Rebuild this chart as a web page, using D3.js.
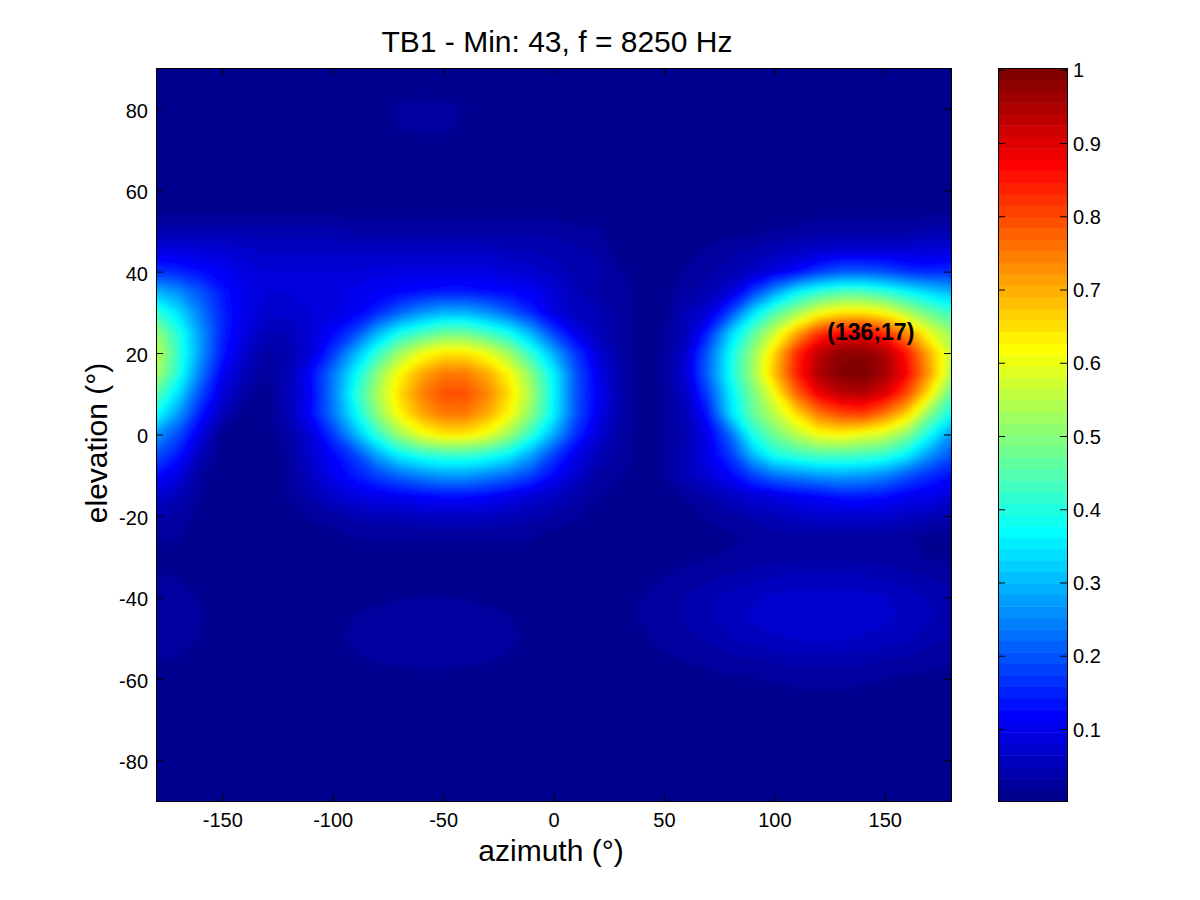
<!DOCTYPE html>
<html>
<head>
<meta charset="utf-8">
<script src="https://cdn.jsdelivr.net/npm/d3@7"></script>
<style>
  html, body { margin: 0; background: #fff; }
  text { font-family: "Liberation Sans", Arial, sans-serif; fill: #000; }
  .axis text { font-size: 20px; }
  .axis path, .axis line { stroke: #000; }
  .label { font-size: 30px; }
</style>
</head>
<body>
<script>
var titleText = "TB1 - Min: 43, f = 8250 Hz";
var xLabel = "azimuth (\u00B0)";
var yLabel = "elevation (\u00B0)";
var peakLabel = "(136;17)";
var peakAz = 136, peakEl = 17;

var azimuths = d3.range(-180, 181, 10);
var elevations = d3.range(90, -91, -5);
var xTicks = [-150, -100, -50, 0, 50, 100, 150];
var yTicks = [-80, -60, -40, -20, 0, 20, 40, 60, 80];
var cTicks = [0.1, 0.2, 0.3, 0.4, 0.5, 0.6, 0.7, 0.8, 0.9, 1];
var cMin = 0.0017, cMax = 1.0024;

// level in percent. One row per elevation (90 down to -90),
// columns are azimuth -180..-130 | -120..-40 | -30..50 | 60..140 | 150..180
var flat = [1,1,1,1,1,1, 1,1,1,1,1,1,1,1,1, 1,1,1,1,1,1,1,1,1, 1,1,1,1,1,1,1,1,1, 1,1,1,1];
var levels = [
  flat, // 90
  [1,1,1,1,1,1, 1,1,1,1,1,1,1.2,1.2,1, 1,1,1,1,1,1,1,1,1, 1,1,1,1,1,1,1,1,1, 1,1,1,1], // 85
  [1,1,1,1,1,1, 1,1,1,1,1.2,2,2.3,2.2,1.74, 1,1,1,1,1,1,1,1,1, 1,1,1,1,1,1,1,1,1, 1,1,1,1], // 80
  [1,1,1,1,1,1, 1,1,1,1,1,1.78,2.1,2,1.5, 1,1,1,1,1,1,1,1,1, 1,1,1,1,1,1,1,1,1, 1,1,1,1], // 75
  flat, // 70
  flat, // 65
  flat, // 60
  flat, // 55
  [4,4,4,4,4,4, 4,4,4,3,3,3,3,3,3, 3,3,3,3,2,2,1,1,1, 1,1,1,1,2,2,3,3,3, 3,3,4,4], // 50
  [9,9,8,8,7,6, 6,6,6,6,6,6,6,6,6, 6,5,5,4,4,3,1,1,1, 1,2,3,4,5,6,7,8,8, 8,8,8,9], // 45
  [16,15,13,11,9,8, 8,8,8,8,9,9,9,9,9, 9,8,7,6,4,4,2,1,1, 2,3,4,6,9,12,17,20,20, 19,16,15,16], // 40
  [30,26,20,14,10,8, 8,8,9,10,11,12,13,14,14, 13,12,11,8,5,3,3,1,1, 3,4,8,17,27,36,41,44,44, 41,37,33,30], // 35
  [42,34,24,15,10,7, 7,8,9,11,15,21,26,29,29, 26,21,15,9,5,5,3,1,1, 5,8,18,33,44,52,60,64,64, 61,54,47,42], // 30
  [52,40,27,15,9,5, 5,8,12,18,29,38,43,47,47, 43,38,29,18,10,5,3,1,2, 5,15,32,45,57,70,82,87,88, 83,73,60,52], // 25
  [56,42,27,14,7,3, 4,8,17,29,41,52,60,64,64, 60,52,41,29,17,8,3,1,2, 7,21,37,51,66,83,93,98,98, 95,85,70,56], // 20
  [54,40,24,11,5,2, 5,12,23,36,50,62,70,75,75, 70,62,50,36,20,10,4,1,2, 8,22,38,52,68,84,95,99,100, 96,87,72,54], // 15
  [46,34,19,8,3,1, 5,11,24,39,53,65,74,79,79, 74,65,53,37,20,11,4,1,2, 6,18,35,48,61,77,88,93,94, 90,80,64,46], // 10
  [38,27,14,5,1,1, 5,12,23,36,50,62,70,75,75, 70,62,50,36,20,10,4,1,2, 5,14,33,46,55,65,75,80,81, 75,66,50,38], // 5
  [27,19,9,1,1,1, 3,8,17,29,41,52,60,64,64, 60,52,41,29,16,8,3,1,2, 4,10,22,39,48,55,61,62,60, 57,50,38,27], // 0
  [20,14,5,1,1,1, 2,7,12,18,28,36,40,42,42, 40,36,28,18,10,5,3,1,2, 5,10,17,30,39,42,44,44,43, 41,36,27,20], // -5
  [13,9,2,1,1,1, 2,6,10,14,18,22,25,27,27, 25,22,18,12,7,3,2,1,2, 5,8,12,18,23,25,27,28,27, 25,20,16,13], // -10
  [8,5,2,1,1,1, 2,4,7,9,10,11,12,13,13, 12,10,8,6,4,2,1,1,1, 2,4,6,8,9,11,12,14,14, 13,11,10,8], // -15
  [4,3,1,1,1,1, 1,2,3,4,5,5,6,6,6, 6,5,4,3,2,1,1,1,1, 1,2,3,4,5,6,7,7,7, 7,6,5,4], // -20
  [2,2,1,1,1,1, 1,1,1,2,2,2,2,2,2, 2,2,2,1,1,1,1,1,1, 1,1,1.5,2,3,3,3,3,3, 3,2,1.5,1.5], // -25
  [1,1,1,1,1,1, 1,1,1,1,1,1,1,1,1, 1,1,1,1,1,1,1,1,1, 1.3,1.6,2,2.3,2.6,2.8,2.9,2.9,2.7, 2.5,2.1,1.6,1.4], // -30
  [1.92,1.73,1.14,1,1,1, 1,1,1,1,1,1,1,1,1, 1,1,1,1,1,1,1,1.3,1.8, 2.3,3,3.5,4.3,4.9,5.3,5.4,5.3,5.1, 4.5,3.8,3.2,2.6], // -35
  [2.5,2.3,1.73,1,1,1, 1,1,1,1,1.36,1.66,1.8,1.82,1.66, 1.36,1.1,1,1,1,1,1.3,1.8,2.5, 3.4,4.5,5.5,6.1,6.9,7,7.2,7.2,7, 6.6,5.8,4.8,3.7], // -40
  [2.7,2.5,1.9,1,1,1, 1,1,1,1.86,2.3,2.6,2.75,2.75,2.6, 2.3,1.86,1,1,1,1,1.4,1.9,2.7, 3.5,4.7,5.7,6.7,7.3,7.5,8,7.6,7.2, 6.8,6.1,5.1,4], // -45
  [2.5,2.3,1.73,1,1,1, 1,1,1.5,2.1,2.54,2.84,3,3,2.84, 2.54,2.1,1.5,1,1,1,1.1,1.6,2.3, 3,3.7,4.6,5.5,6.2,6.6,6.8,6.7,6.3, 5.8,5.1,4,3.2], // -50
  [1.92,1.73,1.14,1,1,1, 1,1,1,1.57,2,2.3,2.46,2.46,2.3, 2,1.57,1,1,1,1,1,1,1.5, 1.9,2.4,3,3.3,3.8,4.2,4.3,4.2,4, 3.5,3.1,2.6,2.1], // -55
  [1,1,1,1,1,1, 1,1,1,1,1,1,1.2,1.2,1, 1,1,1,1,1,1,1,1,1, 1,1.2,1.5,1.7,2,2.2,2.3,2.3,2.1, 1.8,1.5,1.3,1], // -60
  [1,1,1,1,1,1, 1,1,1,1,1,1,1,1,1, 1,1,1,1,1,1,1,1,1, 1,1,1,1,1.1,1.2,1.2,1.2,1.1, 1,1,1,1], // -65
  flat, // -70
  flat, // -75
  flat, // -80
  flat, // -85
  flat  // -90
];

var plot = {left: 156, right: 951, top: 68, bottom: 801};
var bar = {left: 998, right: 1067};

// matlab jet, 64 steps
function jet(i) {
  var t = (i + 1) / 64;
  function ch(c) { return Math.round(255 * Math.max(0, Math.min(1, 1.5 - Math.abs(4 * t - c)))); }
  return d3.rgb(ch(3), ch(2), ch(1)).formatHex();
}
var colors = d3.range(64).map(jet);

var x = d3.scaleLinear().domain([-180, 180]).range([plot.left, plot.right]);
var y = d3.scaleLinear().domain([-90, 90]).range([plot.bottom, plot.top]);
var c = d3.scaleLinear().domain([cMin, cMax]).range([plot.bottom, plot.top]);

// contour coordinates sit half a cell off the grid values
var gridX = d3.scaleLinear().domain([0.5, azimuths.length - 0.5]).range([x(azimuths[0]), x(azimuths[azimuths.length - 1])]);
var gridY = d3.scaleLinear().domain([0.5, elevations.length - 0.5]).range([y(elevations[0]), y(elevations[elevations.length - 1])]);

var path = d3.geoPath(d3.geoTransform({
  point: function(px, py) { this.stream.point(gridX(px), gridY(py)); }
}));

var thresholds = d3.range(1, 64).map(function(i) { return (0.002 + i * 0.998 / 64) * 100; });
var contours = d3.contours()
  .size([azimuths.length, elevations.length])
  .thresholds(thresholds)
  .smooth(true)(d3.merge(levels));

var svg = d3.select("body").append("svg")
  .attr("width", 1200)
  .attr("height", 900)
  .style("display", "block");

var defs = svg.append("defs");
defs.append("clipPath").attr("id", "plot-clip")
  .append("rect")
  .attr("x", plot.left).attr("y", plot.top)
  .attr("width", plot.right - plot.left).attr("height", plot.bottom - plot.top);

// softens the facets of the 10 degree grid
defs.append("filter").attr("id", "soft")
  .append("feGaussianBlur").attr("stdDeviation", 2.5);

var field = svg.append("g").attr("clip-path", "url(#plot-clip)")
  .append("g").attr("filter", "url(#soft)");

field.append("rect")
  .attr("x", plot.left - 20).attr("y", plot.top - 20)
  .attr("width", plot.right - plot.left + 40).attr("height", plot.bottom - plot.top + 40)
  .attr("fill", colors[0]);

field.selectAll("path")
  .data(contours)
  .enter()
  .append("path")
  .attr("d", path)
  .attr("fill", function(d, i) { return colors[i + 1]; });

// axes with inward ticks
svg.append("g").attr("class", "axis")
  .attr("transform", "translate(0," + plot.bottom + ")")
  .call(d3.axisBottom(x).tickValues(xTicks).tickSizeInner(-7).tickSizeOuter(0).tickPadding(12).tickFormat(String));

svg.append("g").attr("class", "axis")
  .attr("transform", "translate(0," + plot.top + ")")
  .call(d3.axisTop(x).tickValues(xTicks).tickSizeInner(-7).tickSizeOuter(0).tickFormat(""));

svg.append("g").attr("class", "axis")
  .attr("transform", "translate(" + plot.left + ",0)")
  .call(d3.axisLeft(y).tickValues(yTicks).tickSizeInner(-7).tickSizeOuter(0).tickPadding(8).tickFormat(String))
  .selectAll("text").attr("dy", "0.42em");

svg.append("g").attr("class", "axis")
  .attr("transform", "translate(" + plot.right + ",0)")
  .call(d3.axisRight(y).tickValues(yTicks).tickSizeInner(-7).tickSizeOuter(0).tickFormat(""));

svg.append("text")
  .attr("x", x(peakAz) + 17)
  .attr("y", y(peakEl) - 25)
  .attr("text-anchor", "middle")
  .style("font-size", "23px")
  .style("font-weight", "bold")
  .text(peakLabel);

svg.append("text").attr("class", "label")
  .attr("x", 557).attr("y", 52)
  .attr("text-anchor", "middle")
  .text(titleText);

svg.append("text").attr("class", "label")
  .attr("x", 551).attr("y", 861)
  .attr("text-anchor", "middle")
  .text(xLabel);

svg.append("text").attr("class", "label")
  .attr("transform", "translate(107,443)rotate(-90)")
  .attr("text-anchor", "middle")
  .text(yLabel);

// colorbar, one band per jet step
var bandH = (plot.bottom - plot.top) / 64;
svg.append("g").selectAll("rect")
  .data(colors)
  .enter()
  .append("rect")
  .attr("x", bar.left)
  .attr("y", function(d, i) { return plot.bottom - (i + 1) * bandH; })
  .attr("width", bar.right - bar.left)
  .attr("height", bandH + 0.5)
  .attr("fill", function(d) { return d; });

svg.append("g").attr("class", "axis")
  .attr("transform", "translate(" + bar.right + ",0)")
  .call(d3.axisRight(c).tickValues(cTicks).tickSizeInner(-7).tickSizeOuter(0).tickPadding(6).tickFormat(String))
  .selectAll("text").attr("dy", "0.36em");

svg.append("g").attr("class", "axis")
  .attr("transform", "translate(" + bar.left + ",0)")
  .call(d3.axisLeft(c).tickValues(cTicks).tickSizeInner(-7).tickSizeOuter(0).tickFormat(""));

svg.append("rect")
  .attr("x", plot.left + 0.5).attr("y", plot.top + 0.5)
  .attr("width", plot.right - plot.left).attr("height", plot.bottom - plot.top)
  .attr("fill", "none").attr("stroke", "#000");

svg.append("rect")
  .attr("x", bar.left + 0.5).attr("y", plot.top + 0.5)
  .attr("width", bar.right - bar.left).attr("height", plot.bottom - plot.top)
  .attr("fill", "none").attr("stroke", "#000");
</script>
</body>
</html>
